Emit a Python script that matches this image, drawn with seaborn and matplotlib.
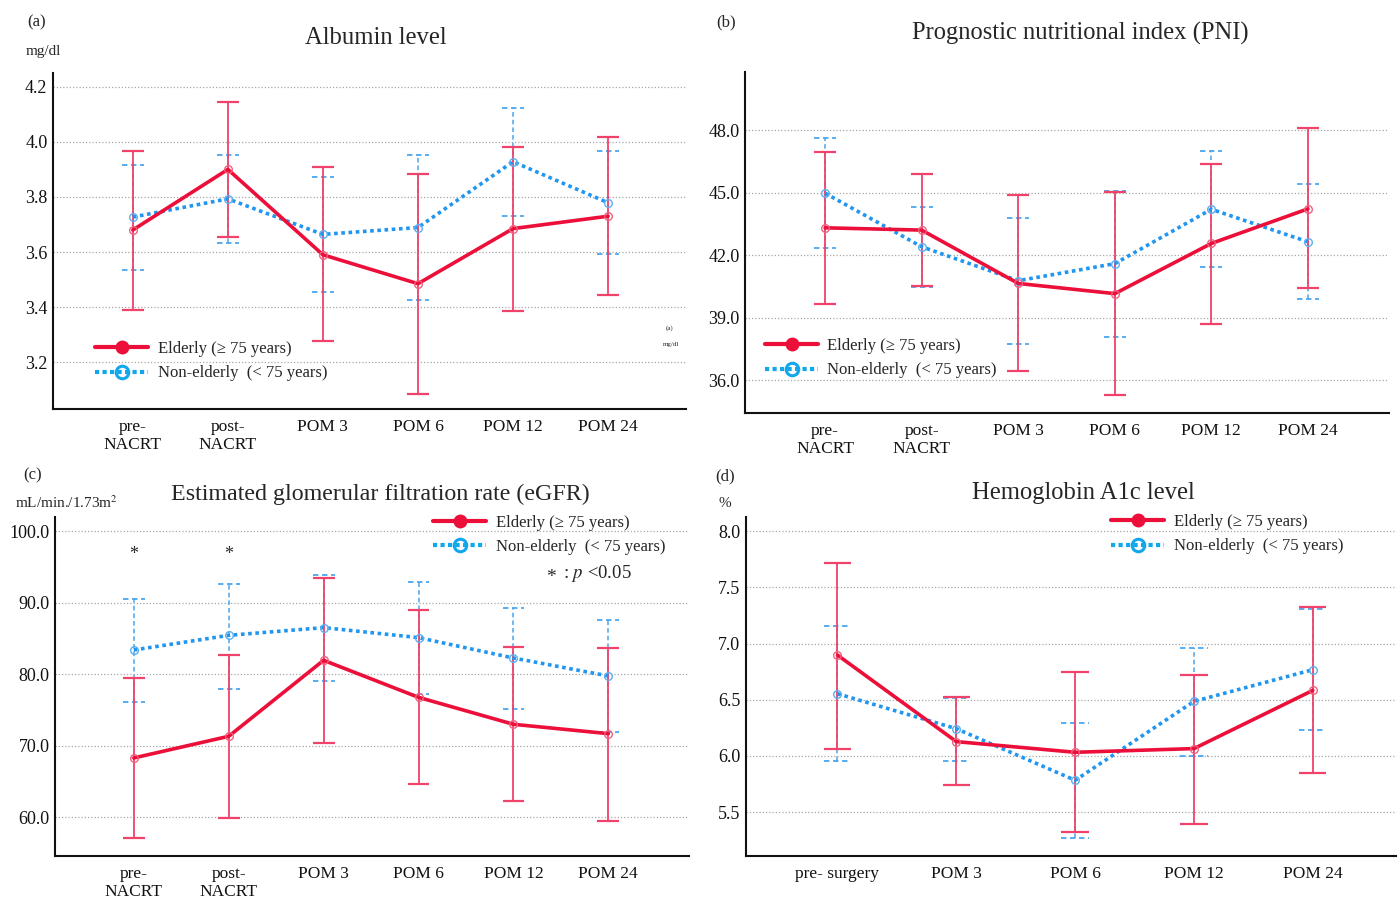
import numpy as np
import pandas as pd
import matplotlib
matplotlib.use('Agg')
import matplotlib.pyplot as plt
from matplotlib.lines import Line2D
import seaborn as sns

# time points
nacrt_times = ['pre-\nNACRT', 'post-\nNACRT', 'POM 3', 'POM 6', 'POM 12', 'POM 24']
hba1c_times = ['pre- surgery', 'POM 3', 'POM 6', 'POM 12', 'POM 24']

# (a) albumin, mg/dl
alb_old_mean = [3.68, 3.90, 3.59, 3.485, 3.685, 3.73]
alb_old_lo = [3.39, 3.656, 3.276, 3.084, 3.385, 3.444]
alb_old_hi = [3.965, 4.144, 3.91, 3.884, 3.983, 4.016]
alb_young_mean = [3.727, 3.793, 3.664, 3.689, 3.928, 3.779]
alb_young_lo = [3.536, 3.634, 3.455, 3.427, 3.729, 3.591]
alb_young_hi = [3.917, 3.953, 3.871, 3.952, 4.124, 3.968]

# (b) PNI
pni_old_mean = [43.31, 43.20, 40.64, 40.15, 42.56, 44.22]
pni_old_lo = [39.65, 40.53, 36.43, 35.27, 38.70, 40.40]
pni_old_hi = [46.96, 45.88, 44.87, 45.02, 46.39, 48.10]
pni_young_mean = [44.97, 42.40, 40.77, 41.59, 44.20, 42.64]
pni_young_lo = [42.32, 40.47, 37.71, 38.06, 41.43, 39.88]
pni_young_hi = [47.60, 44.33, 43.80, 45.08, 46.98, 45.43]

# (c) eGFR, mL/min./1.73m2
egfr_old_mean = [68.3, 71.33, 81.96, 76.78, 73.01, 71.7]
egfr_old_lo = [57.06, 59.95, 70.35, 64.66, 62.24, 59.53]
egfr_old_hi = [79.44, 82.75, 93.47, 88.95, 83.87, 83.73]
egfr_young_mean = [83.4, 85.45, 86.53, 85.13, 82.28, 79.77]
egfr_young_lo = [76.18, 78.0, 79.02, 77.25, 75.2, 71.89]
egfr_young_hi = [90.54, 92.63, 93.94, 92.87, 89.28, 87.6]
egfr_signif = ['pre-\nNACRT', 'post-\nNACRT']

# (d) HbA1c, %
hb_old_mean = [6.898, 6.128, 6.033, 6.066, 6.584]
hb_old_lo = [6.066, 5.74, 5.322, 5.399, 5.85]
hb_old_hi = [7.719, 6.522, 6.744, 6.72, 7.322]
hb_young_mean = [6.554, 6.243, 5.784, 6.486, 6.768]
hb_young_lo = [5.953, 5.953, 5.269, 6.004, 6.235]
hb_young_hi = [7.159, 6.52, 6.297, 6.96, 7.304]

RED = '#ec0f3a'
RED_ERR = '#f0426a'
BLUE = '#2196f0'
BLUE_ERR = '#4aa6ee'
BLUE_LEG = '#12a6ea'

sns.set_theme(style='white')
plt.rcParams['font.family'] = ['Liberation Serif', 'DejaVu Serif']
plt.rcParams['mathtext.fontset'] = 'stix'

fig = plt.figure(figsize=(14, 8.98), dpi=100)


def draw_panel(rect, times, old, young, yticks, ylim, xlim):
    ax = fig.add_axes(rect)
    pos = np.arange(len(times))
    cap = 0.115

    # blue (non-elderly) CI, dashed
    ax.vlines(pos, young[1], young[2], color=BLUE_ERR, lw=1.1, linestyles=(0, (3, 2)), zorder=2)
    ax.hlines(young[1], pos - cap, pos + cap, color=BLUE_ERR, lw=1.3, linestyles=(0, (3, 2)), zorder=2)
    ax.hlines(young[2], pos - cap, pos + cap, color=BLUE_ERR, lw=1.3, linestyles=(0, (3, 2)), zorder=2)
    # red (elderly) CI
    ax.vlines(pos, old[1], old[2], color=RED_ERR, lw=1.3, zorder=3)
    ax.hlines(old[1], pos - cap, pos + cap, color=RED_ERR, lw=1.6, zorder=3)
    ax.hlines(old[2], pos - cap, pos + cap, color=RED_ERR, lw=1.6, zorder=3)

    sns.lineplot(x=pos, y=young[0], ax=ax, sort=False, color=BLUE, lw=2.6,
                 linestyle=(0, (1, 1)), marker='o', markersize=5.5,
                 markerfacecolor='none', markeredgecolor='#5ab0f0',
                 markeredgewidth=1.0, zorder=4)
    sns.lineplot(x=pos, y=old[0], ax=ax, sort=False, color=RED, lw=2.6,
                 marker='o', markersize=5.5, markerfacecolor='none',
                 markeredgecolor='#f2607e', markeredgewidth=1.0, zorder=5)

    ax.set_xticks(pos)
    ax.set_xticklabels(times, fontsize=12.5, linespacing=1.15)
    ax.set_yticks(yticks)
    ax.set_yticklabels([f'{v:.1f}' for v in yticks], fontsize=13)
    ax.set_ylim(ylim)
    ax.set_xlim(xlim)
    ax.tick_params(axis='x', length=0, pad=7, colors='#111111')
    ax.tick_params(axis='y', length=0, pad=4, colors='#111111')
    ax.yaxis.grid(True, linestyle=(0, (1, 1.6)), color='#a8a8a8', lw=0.9)
    ax.xaxis.grid(False)
    ax.set_axisbelow(True)
    for s in ['top', 'right']:
        ax.spines[s].set_visible(False)
    for s in ['left', 'bottom']:
        ax.spines[s].set_color('#111111')
        ax.spines[s].set_linewidth(1.5)
    ax.set_xlabel('')
    ax.set_ylabel('')
    return ax


def fy(y):
    return 1 - y / 898


def add_legend(ax, x, y):
    handles = [
        Line2D([], [], color=RED, lw=3, marker='o', markersize=9,
               markerfacecolor=RED, markeredgecolor=RED),
        Line2D([], [], color=BLUE_LEG, lw=3, linestyle=(0, (1, 0.8)), marker='o',
               markersize=9, markerfacecolor='none', markeredgecolor=BLUE_LEG,
               markeredgewidth=2.2),
    ]
    labels = ['Elderly (\u2265 75 years)', 'Non-elderly  (< 75 years)']
    ax.legend(handles, labels, loc='upper left', bbox_to_anchor=(x / 1400, fy(y)),
              bbox_transform=fig.transFigure, frameon=False, fontsize=12,
              handlelength=3.2, handletextpad=0.55, labelspacing=0.5,
              borderpad=0, borderaxespad=0)


ax_a = draw_panel([53 / 1400, fy(409), 633 / 1400, 336 / 898], nacrt_times,
                  [alb_old_mean, alb_old_lo, alb_old_hi],
                  [alb_young_mean, alb_young_lo, alb_young_hi],
                  [3.2, 3.4, 3.6, 3.8, 4.0, 4.2], (3.03, 4.25), (-0.84, 5.82))
ax_b = draw_panel([745 / 1400, fy(413), 644 / 1400, 341 / 898], nacrt_times,
                  [pni_old_mean, pni_old_lo, pni_old_hi],
                  [pni_young_mean, pni_young_lo, pni_young_hi],
                  [36.0, 39.0, 42.0, 45.0, 48.0], (34.42, 50.79), (-0.83, 5.84))
ax_c = draw_panel([55 / 1400, fy(856), 634 / 1400, 339 / 898], nacrt_times,
                  [egfr_old_mean, egfr_old_lo, egfr_old_hi],
                  [egfr_young_mean, egfr_young_lo, egfr_young_hi],
                  [60.0, 70.0, 80.0, 90.0, 100.0], (54.59, 102.0), (-0.83, 5.85))
ax_d = draw_panel([746 / 1400, fy(856), 650 / 1400, 339 / 898], hba1c_times,
                  [hb_old_mean, hb_old_lo, hb_old_hi],
                  [hb_young_mean, hb_young_lo, hb_young_hi],
                  [5.5, 6.0, 6.5, 7.0, 7.5, 8.0], (5.11, 8.127), (-0.77, 4.7))

add_legend(ax_a, 95, 341)
add_legend(ax_b, 765, 338)
add_legend(ax_c, 433, 515)
add_legend(ax_d, 1111, 514)

# significance marks on eGFR
for t in egfr_signif:
    ax_c.text(nacrt_times.index(t), 96.8, '*', ha='center', va='center', fontsize=13)
fig.text(551 / 1400, fy(577), '*', ha='center', va='center', fontsize=14)
fig.text(563 / 1400, fy(573), ': $p$ <0.05', ha='left', va='center', fontsize=13.5)

# titles, panel letters, units
fig.text(376 / 1400, fy(38), 'Albumin level', ha='center', va='center', fontsize=17.7)
fig.text(1080 / 1400, fy(33), 'Prognostic nutritional index (PNI)', ha='center', va='center', fontsize=17.7)
fig.text(380 / 1400, fy(494), 'Estimated glomerular filtration rate (eGFR)', ha='center', va='center', fontsize=17.3)
fig.text(1083 / 1400, fy(493), 'Hemoglobin A1c level', ha='center', va='center', fontsize=17.7)

fig.text(37 / 1400, fy(22), '(a)', ha='center', va='center', fontsize=12)
fig.text(726 / 1400, fy(22), '(b)', ha='center', va='center', fontsize=12)
fig.text(33 / 1400, fy(475), '(c)', ha='center', va='center', fontsize=12)
fig.text(725 / 1400, fy(476), '(d)', ha='center', va='center', fontsize=12)

fig.text(43 / 1400, fy(52), 'mg/dl', ha='center', va='center', fontsize=11)
fig.text(66 / 1400, fy(503), 'mL/min./1.73m$^2$', ha='center', va='center', fontsize=11)
fig.text(725 / 1400, fy(503), '%', ha='center', va='center', fontsize=11)

# stray small labels inside panel (a)
fig.text(670 / 1400, fy(328), '(a)', ha='center', va='center', fontsize=5)
fig.text(671 / 1400, fy(344), 'mg/dl', ha='center', va='center', fontsize=5)

fig.savefig('out.png', dpi=100, facecolor='white')
